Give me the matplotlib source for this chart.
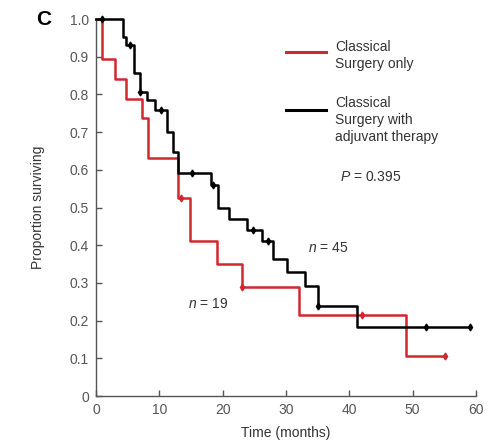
import matplotlib
matplotlib.use("Agg")
import matplotlib.pyplot as plt

plt.rcParams['font.family'] = ['Liberation Sans', 'DejaVu Sans']
plt.rcParams['mathtext.fontset'] = 'custom'
plt.rcParams['mathtext.it'] = 'Liberation Sans:italic'
plt.rcParams['mathtext.rm'] = 'Liberation Sans'

# Kaplan-Meier steps (time in months, proportion surviving)
surg_t = [0, 1.0, 3.0, 4.8, 7.2, 8.2, 13.0, 14.9, 19.1, 23.1, 32.0, 48.9]
surg_s = [1.0, 0.895, 0.842, 0.789, 0.737, 0.632, 0.526, 0.41, 0.35, 0.29, 0.215, 0.107]
surg_end = 55.1
surg_cens_t = [13.4, 23.1, 42.0, 55.1]
surg_cens_s = [0.526, 0.29, 0.215, 0.107]

adj_t = [0, 4.2, 4.8, 6.0, 7.0, 8.0, 9.3, 11.2, 12.2, 13.0, 18.2, 19.2, 21.0,
         23.8, 26.2, 28.0, 30.1, 33.0, 35.1, 41.2]
adj_s = [1.0, 0.953, 0.931, 0.858, 0.807, 0.784, 0.759, 0.70, 0.648, 0.592, 0.56,
         0.50, 0.47, 0.44, 0.41, 0.363, 0.33, 0.292, 0.239, 0.182]
adj_end = 59.1
adj_cens_t = [1.0, 5.3, 7.0, 10.2, 15.1, 18.4, 24.8, 27.2, 35.0, 52.1, 59.1]
adj_cens_s = [1.0, 0.931, 0.807, 0.759, 0.592, 0.56, 0.44, 0.41, 0.239, 0.182, 0.182]

red = '#d0282e'
txt = '#333333'
gray = '#555555'

fig = plt.figure(figsize=(5.01, 4.44), dpi=100)
ax = fig.add_axes([0.1916, 0.1081, 0.7585, 0.8491])

ax.step(surg_t + [surg_end], surg_s + [surg_s[-1]], where='post', color=red, lw=1.8, clip_on=False)
ax.plot(surg_cens_t, surg_cens_s, 'd', color=red, ms=3.5, clip_on=False)
ax.step(adj_t + [adj_end], adj_s + [adj_s[-1]], where='post', color='black', lw=1.8, clip_on=False, zorder=3)
ax.plot(adj_cens_t, adj_cens_s, 'd', color='black', ms=3.5, clip_on=False, zorder=3)

ax.set_xlim(0, 60)
ax.set_ylim(0, 1.0)
ax.set_xticks(range(0, 61, 10))
ax.set_yticks([i / 10 for i in range(11)])
ax.set_yticklabels(['0'] + ['%.1f' % (i / 10) for i in range(1, 11)])
for side in ['top', 'right']:
    ax.spines[side].set_visible(False)
for side in ['left', 'bottom']:
    ax.spines[side].set_color(gray)
    ax.spines[side].set_linewidth(1.0)
ax.tick_params(direction='in', length=4, width=1, color=gray, labelcolor=gray, labelsize=10, pad=5)

ax.set_xlabel('Time (months)', fontsize=10, color=txt)
ax.set_ylabel('Proportion surviving', fontsize=10, color=txt)
ax.xaxis.set_label_coords(0.5, -0.08)
ax.yaxis.set_label_coords(-0.135, 0.5)

# legend drawn by hand
ax.plot([0.50, 0.605], [0.913, 0.913], color=red, lw=2.2, transform=ax.transAxes)
ax.text(0.629, 0.944, 'Classical\nSurgery only', transform=ax.transAxes,
        fontsize=10, color=txt, va='top', ha='left', linespacing=1.3)
ax.plot([0.50, 0.605], [0.759, 0.759], color='black', lw=2.2, transform=ax.transAxes)
ax.text(0.629, 0.797, 'Classical\nSurgery with\nadjuvant therapy', transform=ax.transAxes,
        fontsize=10, color=txt, va='top', ha='left', linespacing=1.3)
ax.text(0.642, 0.58, '$P$ = 0.395', transform=ax.transAxes, fontsize=10, color=txt, va='center')
ax.text(0.558, 0.392, '$n$ = 45', transform=ax.transAxes, fontsize=10, color=txt, va='center')
ax.text(0.242, 0.244, '$n$ = 19', transform=ax.transAxes, fontsize=10, color=txt, va='center')

fig.text(0.072, 0.957, 'C', fontsize=15, fontweight='bold', color='black', va='center')

fig.savefig('out.png', dpi=100)
